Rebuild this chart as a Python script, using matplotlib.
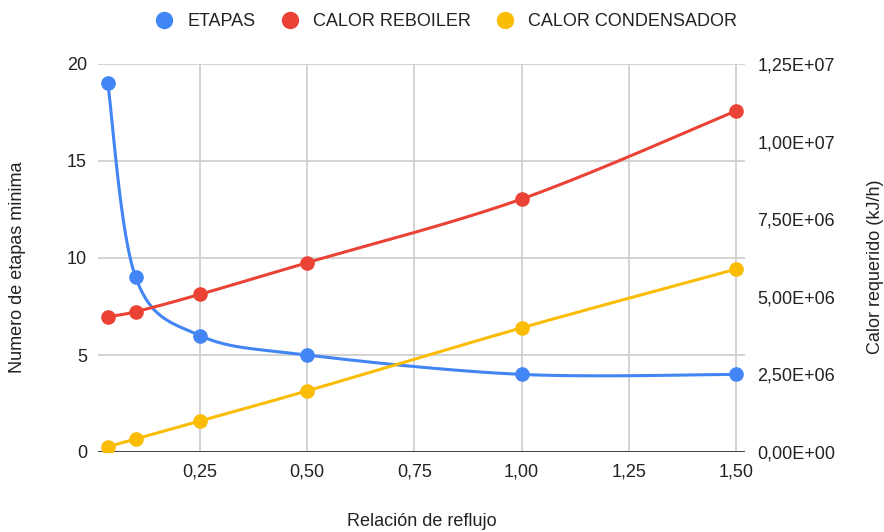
import numpy as np
import matplotlib
matplotlib.use("Agg")
import matplotlib.pyplot as plt
from matplotlib.lines import Line2D
from matplotlib.ticker import FixedLocator, FuncFormatter

plt.rcParams['font.family'] = ['Liberation Sans', 'DejaVu Sans']

# Data
reflujo = [0.035, 0.10, 0.25, 0.50, 1.00, 1.50]
etapas = [19, 9, 6, 5, 4, 4]
calor_reboiler = [4.36e6, 4.52e6, 5.08e6, 6.10e6, 8.15e6, 1.099e7]
calor_condensador = [0.17e6, 0.42e6, 1.00e6, 1.97e6, 4.00e6, 5.89e6]

x_ticks = [0.25, 0.50, 0.75, 1.00, 1.25, 1.50]
left_ticks = [0, 5, 10, 15, 20]
right_ticks = [0, 2.5e6, 5e6, 7.5e6, 1e7, 1.25e7]

BLUE = "#4285F4"
RED = "#EA4335"
YELLOW = "#FBBC04"
GRID = "#cccccc"
TEXT = "#222222"


def smooth(xs, ys, k=1/6, n=60):
    """Cubic Bezier smoothing through the points (Catmull-Rom style tangents)."""
    p = np.column_stack([xs, ys]).astype(float)
    m = np.zeros_like(p)
    for i in range(len(p)):
        if i == 0:
            m[i] = (p[1] - p[0]) * k
        elif i == len(p) - 1:
            m[i] = (p[-1] - p[-2]) * k
        else:
            m[i] = (p[i + 1] - p[i - 1]) * k
    t = np.linspace(0, 1, n)[:, None]
    out = []
    for i in range(len(p) - 1):
        P0, P3 = p[i], p[i + 1]
        P1, P2 = P0 + m[i], P3 - m[i + 1]
        seg = ((1 - t) ** 3) * P0 + 3 * ((1 - t) ** 2) * t * P1 + 3 * (1 - t) * t ** 2 * P2 + t ** 3 * P3
        out.append(seg if i == 0 else seg[1:])
    out = np.vstack(out)
    return out[:, 0], out[:, 1]


fig = plt.figure(figsize=(8.84, 5.32), dpi=100)
ax = fig.add_axes([98 / 884, 1 - 452 / 532, (745 - 98) / 884, (452 - 64) / 532])
ax2 = ax.twinx()

ax.set_xlim(0.0121, 1.521)
ax.set_ylim(0, 20)
ax2.set_ylim(0, 1.25e7)

# grid
ax.xaxis.set_major_locator(FixedLocator(x_ticks))
ax.yaxis.set_major_locator(FixedLocator(left_ticks))
ax2.yaxis.set_major_locator(FixedLocator(right_ticks))
ax.grid(True, color=GRID, linewidth=1.2)
ax.set_axisbelow(True)
for a in (ax, ax2):
    for s in a.spines.values():
        s.set_visible(False)
ax.axhline(0, color="#333333", linewidth=1.3, zorder=1)

comma = lambda v, _: f"{v:.2f}".replace(".", ",")
ax.xaxis.set_major_formatter(FuncFormatter(comma))
ax.yaxis.set_major_formatter(FuncFormatter(lambda v, _: f"{v:.0f}"))


def sci(v, _):
    s = f"{v:.2E}"
    return s.replace(".", ",")


ax2.yaxis.set_major_formatter(FuncFormatter(sci))

ax.tick_params(axis="both", length=0, labelsize=13, colors=TEXT)
ax.tick_params(axis="x", pad=8)
ax.tick_params(axis="y", pad=8)
ax2.tick_params(axis="y", length=0, labelsize=13, colors=TEXT, pad=9)

# series
lw, ms = 2.2, 9.5
xs, ys = smooth(reflujo, etapas)
ax.plot(xs, ys, color=BLUE, lw=lw, zorder=3, solid_capstyle="round")
ax.plot(reflujo, etapas, "o", color=BLUE, ms=ms, zorder=4)

ax2.set_zorder(ax.get_zorder() + 1)
ax2.patch.set_visible(False)
xs, ys = smooth(reflujo, calor_reboiler)
ax2.plot(xs, ys, color=RED, lw=lw, zorder=3)
ax2.plot(reflujo, calor_reboiler, "o", color=RED, ms=ms, zorder=4)
xs, ys = smooth(reflujo, calor_condensador)
ax2.plot(xs, ys, color=YELLOW, lw=lw, zorder=3)
ax2.plot(reflujo, calor_condensador, "o", color=YELLOW, ms=ms, zorder=4)

# labels
fig.text(18 / 884, 1 - 267 / 532, "Numero de etapas minima", rotation=90,
         ha="center", va="center", fontsize=13, color=TEXT)
fig.text(875 / 884, 1 - 267 / 532, "Calor requerido (kJ/h)", rotation=90,
         ha="center", va="center", fontsize=13, color=TEXT)
fig.text(422 / 884, 1 - 521 / 532, "Relación de reflujo",
         ha="center", va="center", fontsize=13, color=TEXT)

handles = [Line2D([], [], marker="o", linestyle="none", color=c, markersize=11.5)
           for c in (BLUE, RED, YELLOW)]
fig.legend(handles, ["ETAPAS", "CALOR REBOILER", "CALOR CONDENSADOR"],
           loc="center", bbox_to_anchor=(447 / 884, 1 - 22 / 532), ncol=3,
           frameon=False, fontsize=13, handlelength=0.8, handletextpad=0.88,
           columnspacing=1.5, labelcolor=TEXT)

fig.savefig("out.png", dpi=100)
